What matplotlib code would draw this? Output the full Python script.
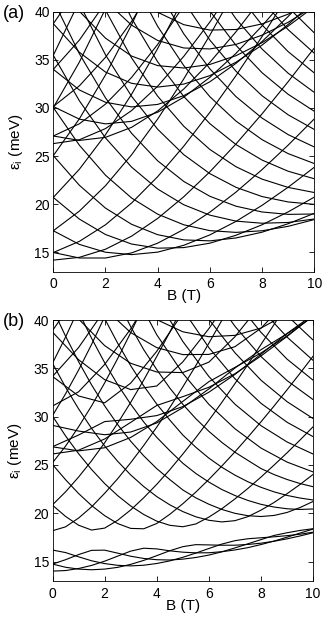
import numpy as np
import matplotlib.pyplot as plt

plt.rcParams['font.family'] = ['Liberation Sans', 'DejaVu Sans']
plt.rcParams['mathtext.fontset'] = 'custom'
plt.rcParams['mathtext.rm'] = 'Liberation Sans'
plt.rcParams['mathtext.it'] = 'Liberation Sans:italic'

N = None

# magnetic field samples (T)
B_a = [0, 1, 2, 3, 4, 5, 6, 7, 8, 9, 10]

# panel (a): levels eps_i (meV) read at B = 0..10 T, None = off the chart
levels_a = [
    # lowest radial branch
    [14.2, 14.49, 15.33, 16.69, 18.53, 20.78, 23.37, 26.26, 29.39, 32.73, 36.23],
    [14.99, 14.42, 14.42, 14.95, 15.96, 17.39, 19.18, 21.26, 23.6, 26.14, 28.86],
    [14.99, 16.15, 17.87, 20.13, 22.87, 26.03, 29.55, 33.36, 37.42, 41.7, N],
    [17.25, 15.83, 15.02, 14.77, 15.03, 15.74, 16.82, 18.22, 19.89, 21.77, 23.84],
    [17.25, 19.29, 21.93, 25.14, 28.85, 33.02, 37.56, 42.4, N, N, N],
    [20.71, 18.46, 16.86, 15.87, 15.44, 15.5, 15.96, 16.78, 17.87, 19.21, 20.74],
    [20.71, 23.64, 27.22, 31.42, 36.18, 41.42, N, N, N, N, N],
    [25.05, 21.97, 19.6, 17.92, 16.84, 16.3, 16.2, 16.5, 17.1, 17.98, 19.06],
    [25.05, 28.88, 33.43, 38.65, 44.49, N, N, N, N, N, N],
    [30.04, 26.13, 23.02, 20.65, 18.97, 17.87, 17.26, 17.08, 17.25, 17.71, 18.41],
    [30.04, 34.77, 40.3, N, N, N, N, N, N, N, N],
    [35.47, 30.74, 26.89, 23.86, 21.58, 19.95, 18.87, 18.25, 18.03, 18.11, 18.47],
    [35.47, 41.1, N, N, N, N, N, N, N, N, N],
    [41.18, 35.63, 31.05, 27.37, 24.51, 22.37, 20.83, 19.8, 19.2, 18.95, 18.99],
    [47.2, 40.83, 35.52, 31.21, 27.79, 25.15, 23.18, 21.76, 20.8, 20.24, 19.99],
    [N, 46.18, 40.15, 35.2, 31.22, 28.1, 25.69, 23.9, 22.61, 21.75, 21.22],
    [N, N, 44.89, 39.31, 34.79, 31.19, 28.37, 26.2, 24.59, 23.43, 22.65],
    [N, N, N, 43.54, 38.47, 34.4, 31.17, 28.64, 26.71, 25.26, 24.23],
    [N, N, N, N, 42.24, 37.7, 34.06, 31.18, 28.95, 27.23, 25.95],
    [N, N, N, N, 46.08, 41.08, 37.05, 33.82, 31.27, 29.29, 27.77],
    [N, N, N, N, N, 44.52, 40.07, 36.51, 33.66, 31.42, 29.66],
    [N, N, N, N, N, 48.01, 43.17, 39.26, 36.12, 33.61, 31.62],
    [N, N, N, N, N, N, 46.31, 42.06, 38.62, 35.85, 33.64],
    [N, N, N, N, N, N, 49.46, 44.88, 41.15, 38.13, 35.69],
    [N, N, N, N, N, N, N, 47.76, 43.73, 40.46, 37.8],
    [N, N, N, N, N, N, N, N, 46.32, 42.8, 39.92],
    # second radial branch
    [26.3, 26.7, 27.86, 29.73, 32.26, 35.36, 38.93, 42.91, N, N, N],
    [27.09, 26.63, 26.95, 27.99, 29.69, 31.97, 34.74, 37.91, 41.43, N, N],
    [27.09, 28.36, 30.4, 33.17, 36.6, 40.61, N, N, N, N, N],
    [30.15, 28.84, 28.35, 28.61, 29.56, 31.12, 33.18, 35.67, 38.52, 41.66, N],
    [30.15, 32.3, 35.26, 38.98, 43.38, N, N, N, N, N, N],
    [34.01, 31.87, 30.59, 30.11, 30.37, 31.28, 32.72, 34.63, 36.9, 39.5, 42.35],
    [34.01, 37.05, 40.95, N, N, N, N, N, N, N, N],
    [38.75, 35.78, 33.73, 32.56, 32.17, 32.48, 33.36, 34.75, 36.53, 38.67, 41.07],
    [38.75, 42.69, N, N, N, N, N, N, N, N, N],
    [43.84, 40.04, 37.25, 35.39, 34.4, 34.15, 34.52, 35.43, 36.78, 38.5, 40.52],
    [49.27, 44.65, 41.12, 38.6, 37.01, 36.23, 36.13, 36.6, 37.56, 38.9, 40.58],
    [N, 49.54, 45.28, 42.11, 39.94, 38.65, 38.09, 38.15, 38.73, 39.74, 41.1],
]

# panel (b): levels with anticrossings, read every 0.5 T
B_b_fine = [0, 0.5, 1, 1.5, 2, 2.5, 3, 3.5, 4, 4.5, 5,
            5.5, 6, 6.5, 7, 7.5, 8, 8.5, 9, 9.5, 10]
levels_b_fine = [
    [14.02, 14.08, 14.29, 14.61, 15.05, 15.57, 16.09, 16.39, 16.32, 16.12, 15.98,
     15.91, 15.92, 16.03, 16.21, 16.45, 16.77, 17.13, 17.53, 17.96, 18.37],
    [25.05, 23.48, 22.05, 20.8, 19.76, 18.94, 18.44, 18.4, 18.95, 19.9, 20.99,
     22.2, 23.51, 24.9, 26.36, 27.89, 29.47, 31.1, 32.78, 34.5, 36.26],
    [25.23, 26.95, 28.95, 31.12, 33.49, 36.01, 38.69, 41.5, N, N, N,
     N, N, N, N, N, N, N, N, N, N],
    [N, N, 40.83, 38.11, 35.58, 33.32, 31.29, 29.45, 27.86, 26.48, 25.18,
     24.12, 23.23, 22.46, 21.84, 21.33, 20.93, 20.65, 20.47, 20.4, 20.45],
    [14.75, 14.42, 14.23, 14.16, 14.23, 14.41, 14.72, 15.13, 15.62, 16.13, 16.55,
     16.76, 16.73, 16.7, 16.7, 16.78, 16.91, 17.11, 17.36, 17.66, 17.99],
    [20.88, 22.22, 23.75, 25.44, 27.3, 29.32, 31.48, 33.79, 36.23, 38.74, 41.42,
     N, N, N, N, N, N, N, N, N, N],
    [30.06, 28.01, 26.17, 24.53, 23.08, 21.83, 20.76, 19.88, 19.19, 18.76, 18.61,
     18.9, 19.61, 20.48, 21.49, 22.58, 23.75, 24.99, 26.26, 27.59, 28.96],
    [N, N, 46.18, 43.02, 40.15, 37.6, 35.27, 33.18, 31.3, 29.65, 28.1,
     26.83, 25.71, 24.76, 23.95, 23.26, 22.69, 22.22, 21.85, 21.58, 21.38],
    [16.2, 15.94, 15.5, 15.09, 14.8, 14.62, 14.56, 14.63, 14.81, 15.08, 15.45,
     15.89, 16.36, 16.82, 17.17, 17.37, 17.47, 17.57, 17.69, 17.84, 18.05],
    [18.2, 18.6, 19.51, 20.67, 22.07, 23.58, 25.24, 27.02, 28.92, 30.94, 33.08,
     35.29, 37.6, 39.98, 42.43, N, N, N, N, N, N],
    [35.52, 33.05, 30.81, 28.78, 26.97, 25.38, 23.97, 22.77, 21.73, 20.88, 20.18,
     19.64, 19.28, 19.11, 19.24, 19.66, 20.33, 21.12, 22.03, 22.99, 24.03],
    [N, N, N, N, 44.89, 41.96, 39.31, 36.93, 34.87, 32.96, 31.28,
     29.79, 28.48, 27.33, 26.32, 25.47, 24.63, 24.01, 23.5, 23.08, 22.75],
    [35.53, 38.23, 41.15, N, N, N, N, N, N, N, N,
     N, N, N, N, N, N, N, N, N, N],
    [14.75, 15.2, 15.73, 16.17, 16.19, 15.88, 15.56, 15.33, 15.2, 15.17, 15.26,
     15.43, 15.68, 16.02, 16.42, 16.85, 17.28, 17.71, 17.99, 18.23, 18.41],
    [20.84, 19.68, 18.77, 18.27, 18.47, 19.28, 20.35, 21.61, 23.0, 24.51, 26.13,
     27.83, 29.62, 31.49, 33.42, 35.41, 37.47, 39.53, 41.7, N, N],
    [41.18, 38.33, 35.69, 33.28, 31.12, 29.18, 27.46, 25.95, 24.62, 23.49, 22.42,
     21.6, 20.94, 20.4, 20.0, 19.75, 19.67, 19.78, 20.09, 20.6, 21.23],
    [30.11, 32.36, 34.82, 37.48, 40.34, N, N, N, N, N, N,
     N, N, N, N, N, N, N, N, N, N],
]

# panel (b): remaining levels, read every 1 T
B_b_coarse = [0, 1, 2, 3, 4, 5, 6, 7, 8, 9, 10]
levels_b_coarse = [
    [N, N, N, 43.54, 38.47, 34.48, 31.27, 28.75, 26.75, 25.3, 24.28],
    [N, N, N, N, 42.24, 37.78, 34.15, 31.29, 29.07, 27.38, 26.13],
    [N, N, N, N, 46.08, 41.08, 37.14, 33.92, 31.38, 29.42, 27.93],
    [N, N, N, N, N, 44.52, 40.07, 36.61, 33.77, 31.55, 29.8],
    [N, N, N, N, N, 48.01, 43.17, 39.35, 36.22, 33.73, 31.76],
    [N, N, N, N, N, N, 46.31, 42.06, 38.72, 35.95, 33.77],
    [N, N, N, N, N, N, 49.46, 44.88, 41.15, 38.23, 35.82],
    [N, N, N, N, N, N, N, 47.76, 43.73, 40.46, 37.92],
    [N, N, N, N, N, N, N, N, 46.32, 42.8, 40.04],
    # second radial branch
    [26.14, 26.53, 27.69, 29.41, 31.16, 32.07, 33.04, 34.44, 36.28, 38.3, 40.46],
    [38.75, 35.89, 33.83, 32.8, 33.17, 35.67, 39.11, 43.0, N, N, N],
    [38.91, 42.75, N, N, N, N, N, N, N, N, N],
    [26.88, 26.46, 26.78, 27.85, 29.49, 31.58, 33.62, 35.1, 36.59, 38.36, 40.42],
    [43.9, 40.11, 37.35, 35.52, 34.62, 34.56, 35.64, 38.27, 41.64, N, N],
    [34.16, 37.15, 41.02, N, N, N, N, N, N, N, N],
    [29.1, 28.51, 28.13, 28.41, 29.35, 30.93, 32.87, 35.03, 36.93, 38.58, 40.33],
    [31.1, 32.57, 35.4, 39.08, 43.45, N, N, N, N, N, N],
    [49.3, 44.7, 41.2, 38.7, 37.14, 36.42, 36.44, 37.24, 39.15, 41.98, N],
    [26.89, 28.1, 29.49, 29.73, 30.11, 31.04, 32.53, 34.37, 36.46, 38.61, 40.55],
    [34.16, 32.14, 31.43, 33.47, 36.76, 40.72, N, N, N, N, N],
    [N, N, 45.28, 42.19, 40.04, 38.78, 38.27, 38.41, 39.17, 40.63, 42.3],
]

fig = plt.figure(figsize=(3.27, 6.18), dpi=100)
ax_a = fig.add_axes([0.163, 0.5604, 0.798, 0.4207])
ax_b = fig.add_axes([0.1606, 0.0599, 0.797, 0.4223])

for e in levels_a:
    ax_a.plot(B_a, np.array(e, dtype=float), color='k', lw=0.8)
for e in levels_b_fine:
    ax_b.plot(B_b_fine, np.array(e, dtype=float), color='k', lw=0.8)
for e in levels_b_coarse:
    ax_b.plot(B_b_coarse, np.array(e, dtype=float), color='k', lw=0.8)

for ax in (ax_a, ax_b):
    ax.set_xlim(0, 10)
    ax.set_ylim(13, 40)
    ax.set_xticks([0, 2, 4, 6, 8, 10])
    ax.set_yticks([15, 20, 25, 30, 35, 40])
    ax.tick_params(direction='in', top=True, right=True, labelsize=10,
                   length=3.5, width=0.6)
    ax.tick_params(axis='x', pad=4)
    ax.tick_params(axis='y', pad=2.5)
    for s in ax.spines.values():
        s.set_linewidth(0.6)
    ax.set_xlabel('B (T)', fontsize=11)
    ax.set_ylabel(r'$\mathrm{\varepsilon_i}$ (meV)', fontsize=11)
    ax.xaxis.set_label_coords(0.5, -0.068)
    ax.yaxis.set_label_coords(-0.11, 0.5)

fig.text(0.009, 0.978, '(a)', fontsize=13, va='center')
fig.text(0.009, 0.4798, '(b)', fontsize=13, va='center')

fig.savefig('out.png', dpi=100)
